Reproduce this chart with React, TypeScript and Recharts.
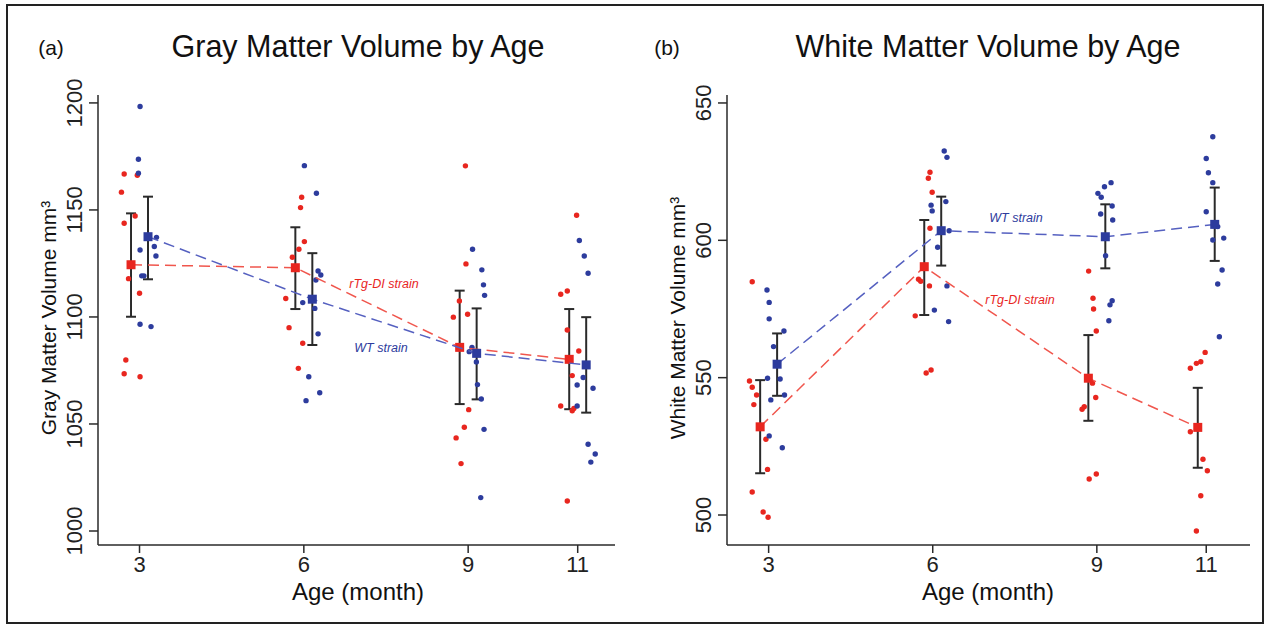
import * as React from "react";
import { ErrorBar, Scatter, ScatterChart, XAxis, YAxis } from "recharts";

type Pt = [number, number];

const AGES = [3, 6, 9, 11];
const GM_TICKS = [1000, 1050, 1100, 1150, 1200];
const WM_TICKS = [500, 550, 600, 650];

// gray matter, individual animals: [jittered age, volume]
const gmRgDots: Pt[] = [
  [2.72, 1166.8], [2.96, 1166.2], [2.67, 1158.3], [2.92, 1147.2], [2.72, 1143.8],
  [2.8, 1117.9], [3.0, 1111.1], [2.75, 1079.9], [2.72, 1073.5], [3.01, 1072.1],
  [5.96, 1155.9], [5.94, 1151.1], [6.01, 1135.2], [5.91, 1131.6], [5.79, 1127.9],
  [5.67, 1108.6], [5.73, 1095.0], [5.98, 1087.7], [5.9, 1076.0],
  [8.95, 1170.6], [8.96, 1124.8], [8.84, 1107.5], [8.73, 1099.9], [8.99, 1101.3],
  [9.01, 1056.7], [8.93, 1048.5], [8.78, 1043.5], [8.87, 1031.5],
  [10.98, 1147.5], [10.69, 1110.6], [10.81, 1112.1], [10.81, 1093.9], [11.02, 1084.1],
  [10.9, 1072.6], [10.69, 1058.4], [10.9, 1056.2], [10.93, 1057.2], [10.81, 1014.0],
];
const gmWtDots: Pt[] = [
  [3.01, 1198.3], [2.98, 1173.7], [2.98, 1167.2], [3.31, 1137.2], [3.27, 1132.9],
  [3.01, 1131.3], [3.3, 1128.5], [3.04, 1119.2], [3.08, 1119.2], [3.01, 1096.6], [3.21, 1095.5],
  [6.01, 1170.7], [6.23, 1157.8], [6.26, 1121.5], [6.31, 1119.6], [6.22, 1117.3],
  [5.98, 1106.7], [6.2, 1104.0], [6.26, 1092.1], [6.09, 1072.1], [6.29, 1064.6], [6.04, 1060.9],
  [9.08, 1131.6], [9.25, 1122.0], [9.28, 1115.0], [9.3, 1110.1], [9.07, 1085.8],
  [9.02, 1083.8], [9.15, 1079.0], [9.17, 1068.4], [9.24, 1061.7], [9.29, 1047.5], [9.23, 1015.6],
  [11.03, 1135.7], [11.12, 1128.5], [11.19, 1120.4], [11.1, 1071.7], [10.99, 1068.2],
  [11.28, 1066.7], [10.99, 1058.4], [11.19, 1040.5], [11.32, 1036.0], [11.24, 1032.2],
];
const gmRgMean = [1124.4, 1123.0, 1085.8, 1080.2];
const gmRgLo = [1100.1, 1103.7, 1059.3, 1056.9];
const gmRgHi = [1148.4, 1141.9, 1112.3, 1103.7];
const gmWtMean = [1137.5, 1108.3, 1083.0, 1077.6];
const gmWtLo = [1117.6, 1086.9, 1061.5, 1055.3];
const gmWtHi = [1156.2, 1129.8, 1104.0, 1099.9];

// white matter
const wmRgDots: Pt[] = [
  [2.7, 584.9], [2.65, 548.8], [2.7, 546.5], [2.78, 543.7], [2.73, 540.2],
  [2.95, 527.6], [2.98, 516.6], [2.7, 508.4], [2.9, 501.1], [2.99, 499.2],
  [5.95, 624.8], [5.92, 622.6], [5.99, 617.5], [5.95, 604.4], [5.74, 585.8],
  [5.78, 585.1], [5.94, 583.4], [5.68, 572.5], [5.88, 551.7], [5.97, 552.8],
  [8.85, 588.8], [8.93, 578.9], [8.94, 575.0], [8.99, 567.0], [8.92, 548.0],
  [8.98, 542.8], [8.77, 539.4], [8.73, 538.5], [8.99, 514.9], [8.86, 513.1],
  [10.98, 559.2], [10.9, 555.8], [10.82, 555.2], [10.71, 553.4], [10.71, 530.3],
  [10.94, 520.3], [11.02, 516.1], [10.9, 507.0], [10.82, 494.2],
];
const wmWtDots: Pt[] = [
  [2.97, 581.9], [3.01, 577.4], [3.01, 571.4], [3.28, 567.0], [3.09, 561.3],
  [2.98, 549.8], [3.21, 549.5], [3.29, 543.7], [3.04, 541.9], [3.01, 528.8], [3.25, 524.5],
  [6.21, 632.5], [6.26, 630.2], [6.24, 614.1], [5.97, 612.8], [5.99, 610.7],
  [6.3, 603.5], [6.09, 597.5], [6.26, 583.4], [6.03, 574.6], [6.29, 570.4],
  [9.26, 621.0], [9.14, 619.5], [9.02, 617.1], [9.08, 615.7], [9.28, 612.5],
  [9.07, 609.6], [9.29, 607.4], [9.16, 594.4], [9.28, 578.0], [9.24, 576.5], [9.22, 570.7],
  [11.12, 637.7], [11.0, 629.8], [11.04, 624.6], [11.12, 621.0], [11.0, 610.4],
  [11.21, 605.0], [11.12, 600.1], [11.32, 600.8], [11.29, 589.2], [11.21, 584.1], [11.24, 564.9],
];
const wmRgMean = [532.1, 590.4, 549.8, 531.9];
const wmRgLo = [515.2, 572.8, 534.3, 517.2];
const wmRgHi = [549.1, 607.4, 565.5, 546.3];
const wmWtMean = [554.9, 603.5, 601.3, 605.8];
const wmWtLo = [543.4, 590.8, 589.8, 592.5];
const wmWtHi = [566.1, 615.9, 613.1, 619.2];

const FONT = '"Liberation Sans", Arial, Helvetica, sans-serif';
const RED = "#e8261f";
const BLUE = "#2d3c9d";
const RED_LINE = "#f0564d";
const BLUE_LINE = "#5560c0";
const INK = "#2a2a2a";
const SHIFT = 0.155; // mean markers sit slightly left (rTg-DI) / right (WT) of the age

const dotRows = (pts: Pt[]) => pts.map(([x, y]) => ({ x, y }));
const meanRows = (mean: number[], lo: number[], hi: number[], shift: number) =>
  AGES.map((a, i) => ({ x: a + shift, y: mean[i], err: [mean[i] - lo[i], hi[i] - mean[i]] }));

const dot = (color: string) => (p: any) => <circle cx={p.cx} cy={p.cy} r={2.7} fill={color} />;
const square = (color: string) => (p: any) => (
  <rect x={p.cx - 4.5} y={p.cy - 4.5} width={9} height={9} fill={color} />
);

function YTick(props: any) {
  const { x, y, payload } = props;
  return (
    <text x={x} y={y} transform={`rotate(-90 ${x} ${y})`} textAnchor="middle" fontSize={22} fontFamily={FONT} fill="#222">
      {payload.value}
    </text>
  );
}

function XTick(props: any) {
  const { x, y, payload } = props;
  return (
    <text x={x} y={y} dy={17} textAnchor="middle" fontSize={22} fontFamily={FONT} fill="#222">
      {payload.value}
    </text>
  );
}

function Txt(props: { x: number; y: number; size: number; children: React.ReactNode; color?: string; italic?: boolean; rotate?: boolean }) {
  const { x, y, size, children, color, italic, rotate } = props;
  return (
    <div
      style={{
        position: "absolute",
        left: x,
        top: y,
        transform: `translate(-50%, -50%)${rotate ? " rotate(-90deg)" : ""}`,
        fontFamily: FONT,
        fontSize: size,
        lineHeight: `${size}px`,
        whiteSpace: "nowrap",
        color: color || "#111",
        fontStyle: italic ? "italic" : "normal",
      }}
    >
      {children}
    </div>
  );
}

function Panel(props: {
  left: number;
  width: number;
  margin: { top: number; right: number; bottom: number; left: number };
  xDomain: [number, number];
  yDomain: [number, number];
  yTicks: number[];
  rgDots: Pt[];
  wtDots: Pt[];
  rg: { mean: number[]; lo: number[]; hi: number[] };
  wt: { mean: number[]; lo: number[]; hi: number[] };
}) {
  const { left, width, margin, xDomain, yDomain, yTicks, rgDots, wtDots, rg, wt } = props;
  const dash = { strokeWidth: 1.5, strokeDasharray: "11 6" };
  return (
    <div style={{ position: "absolute", left, top: 0 }}>
      <ScatterChart width={width} height={627} margin={margin}>
        <XAxis
          type="number"
          dataKey="x"
          domain={xDomain}
          ticks={AGES}
          allowDataOverflow
          height={40}
          tickSize={8}
          tickMargin={2}
          tick={<XTick />}
          axisLine={{ stroke: INK, strokeWidth: 1.5 }}
          tickLine={{ stroke: INK, strokeWidth: 1.5 }}
        />
        <YAxis
          type="number"
          dataKey="y"
          domain={yDomain}
          ticks={yTicks}
          allowDataOverflow
          width={60}
          tickSize={9}
          tickMargin={7}
          tick={<YTick />}
          axisLine={{ stroke: INK, strokeWidth: 1.5 }}
          tickLine={{ stroke: INK, strokeWidth: 1.5 }}
        />
        <Scatter data={dotRows(rgDots)} shape={dot(RED)} isAnimationActive={false} />
        <Scatter data={dotRows(wtDots)} shape={dot(BLUE)} isAnimationActive={false} />
        <Scatter
          data={meanRows(rg.mean, rg.lo, rg.hi, -SHIFT)}
          fill={RED}
          line={{ stroke: RED_LINE, ...dash }}
          shape={square(RED)}
          isAnimationActive={false}
        >
          <ErrorBar dataKey="err" direction="y" width={5} stroke={INK} strokeWidth={2} isAnimationActive={false} />
        </Scatter>
        <Scatter
          data={meanRows(wt.mean, wt.lo, wt.hi, SHIFT)}
          fill={BLUE}
          line={{ stroke: BLUE_LINE, ...dash }}
          shape={square(BLUE)}
          isAnimationActive={false}
        >
          <ErrorBar dataKey="err" direction="y" width={5} stroke={INK} strokeWidth={2} isAnimationActive={false} />
        </Scatter>
      </ScatterChart>
    </div>
  );
}

export default function App() {
  return (
    <div style={{ position: "absolute", left: 0, top: 0, width: 1269, height: 627, background: "#fff", overflow: "hidden" }}>
      <div style={{ position: "absolute", left: 6, top: 4, width: 1254, height: 616, border: "2px solid #222" }} />

      <Panel
        left={0}
        width={640}
        margin={{ top: 95, right: 25, bottom: 42, left: 38 }}
        xDomain={[2.242, 11.681]}
        yDomain={[993.46, 1203.7]}
        yTicks={GM_TICKS}
        rgDots={gmRgDots}
        wtDots={gmWtDots}
        rg={{ mean: gmRgMean, lo: gmRgLo, hi: gmRgHi }}
        wt={{ mean: gmWtMean, lo: gmWtLo, hi: gmWtHi }}
      />
      <Panel
        left={640}
        width={629}
        margin={{ top: 95, right: 19, bottom: 42, left: 27 }}
        xDomain={[2.239, 11.8]}
        yDomain={[489.08, 652.9]}
        yTicks={WM_TICKS}
        rgDots={wmRgDots}
        wtDots={wmWtDots}
        rg={{ mean: wmRgMean, lo: wmRgLo, hi: wmRgHi }}
        wt={{ mean: wmWtMean, lo: wmWtLo, hi: wmWtHi }}
      />

      <Txt x={51} y={47} size={21}>(a)</Txt>
      <Txt x={358} y={46} size={30.5}>Gray Matter Volume by Age</Txt>
      <Txt x={667} y={47} size={21}>(b)</Txt>
      <Txt x={988} y={46} size={30.5}>White Matter Volume by Age</Txt>

      <Txt x={48} y={318} size={21} rotate>Gray Matter Volume mm³</Txt>
      <Txt x={677} y={318} size={21} rotate>White Matter Volume mm³</Txt>
      <Txt x={358} y={592} size={24}>Age (month)</Txt>
      <Txt x={988} y={592} size={24}>Age (month)</Txt>

      <Txt x={384} y={284} size={12.5} color={RED} italic>rTg-DI strain</Txt>
      <Txt x={381} y={348} size={12.5} color={BLUE} italic>WT strain</Txt>
      <Txt x={1016} y={218} size={12.5} color={BLUE} italic>WT strain</Txt>
      <Txt x={1020} y={300} size={12.5} color={RED} italic>rTg-DI strain</Txt>
    </div>
  );
}
